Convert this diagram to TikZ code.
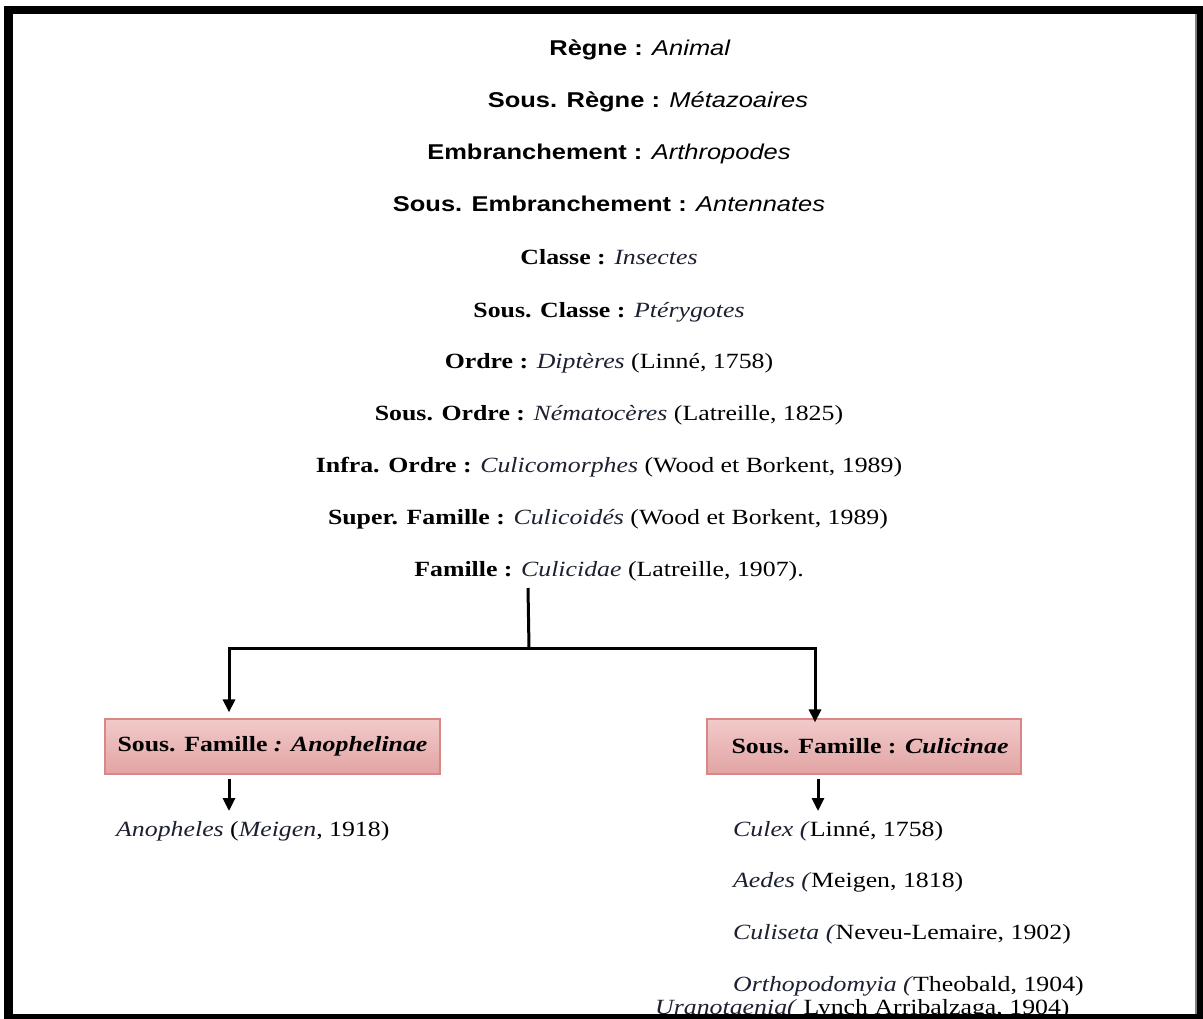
\documentclass[tikz,border=0pt]{standalone}
\usepackage{fontspec}
\setmainfont{Liberation Serif}
\setsansfont{Liberation Sans}
\usetikzlibrary{arrows.meta}
\definecolor{ital}{HTML}{1C2030}
\definecolor{boxtop}{HTML}{F2CACA}
\definecolor{boxbot}{HTML}{E2A3A3}
\definecolor{boxborder}{HTML}{D98686}
\newcommand{\itx}[1]{\textcolor{ital}{\textit{#1}}}
\newcommand{\sx}[1]{\scalebox{1.19}[1]{#1}}
\begin{document}
\begin{tikzpicture}[x=1pt,y=-1pt,
  lvl/.style={anchor=base,inner sep=0pt,font=\fontsize{21.7}{25}\selectfont},
  slvl/.style={anchor=base,inner sep=0pt,font=\sffamily\fontsize{21.4}{25}\selectfont},
  gen/.style={anchor=base west,inner sep=0pt,font=\fontsize{21.7}{25}\selectfont},
  sfbox/.style={draw=boxborder,top color=boxtop,bottom color=boxbot,line width=1.2pt,
    minimum height=55pt,inner sep=0pt,font=\bfseries\fontsize{21.7}{25}\selectfont},
  conn/.style={line width=3pt},
  arr/.style={conn,-{Triangle[length=13pt,width=12pt]}}]
\useasboundingbox (0,0) rectangle (1203,1019);
\clip (0,0) rectangle (1203,1019);
\fill[white] (0,0) rectangle (1203,1019);

% taxonomy levels
\node[slvl] (regne) at (640,56) {\sx{\textbf{Règne :} \textit{Animal}}};
\node[slvl] (sregne) at (648,108) {\sx{\textbf{Sous. Règne :} \textit{Métazoaires}}};
\node[slvl] (emb) at (609,160) {\sx{\textbf{Embranchement :} \textit{Arthropodes}}};
\node[slvl] (semb) at (609,212) {\sx{\textbf{Sous. Embranchement :} \textit{Antennates}}};
\node[lvl] (classe) at (609,265) {\sx{\textbf{Classe :} \itx{Insectes}}};
\node[lvl] (sclasse) at (609,317) {\sx{\textbf{Sous. Classe :} \itx{Ptérygotes}}};
\node[lvl] (ordre) at (609,368) {\sx{\textbf{Ordre :} \itx{Diptères} (Linné, 1758)}};
\node[lvl] (sordre) at (609,420) {\sx{\textbf{Sous. Ordre :} \itx{Nématocères} (Latreille, 1825)}};
\node[lvl] (iordre) at (609,472) {\sx{\textbf{Infra. Ordre :} \itx{Culicomorphes} (Wood et Borkent, 1989)}};
\node[lvl] (sfam) at (608,524) {\sx{\textbf{Super. Famille :} \itx{Culicoidés} (Wood et Borkent, 1989)}};
\node[lvl] (fam) at (609,576) {\sx{\textbf{Famille :} \itx{Culicidae} (Latreille, 1907).}};

% sub-families
\node[sfbox,minimum width=335pt] (anoph) at (272.5,746.5) {\sx{Sous. Famille \textit{: Anophelinae}}};
\node[sfbox,minimum width=314pt] (culic) at (864,746.5) {\hspace*{12pt}\sx{Sous. Famille : \textit{Culicinae}}};

% connectors
\coordinate (famstem) at (528,588);
\coordinate (j) at (529,648);
\coordinate (jl) at (229,648);
\coordinate (jr) at (815,648);
\draw[conn] (famstem) -- (j);
\draw[conn,line cap=rect] (jl) -- (jr);
\draw[arr,shorten >=6pt] (jl) -- (anoph.north -| jl);
\draw[arr,shorten >=-4pt] (jr) -- (culic.north -| jr);

% genera
\node[gen] (anopheles) at (116,836) {\sx{\itx{Anopheles} (\itx{Meigen}, 1918)}};
\node[gen] (culex) at (733,836) {\sx{\itx{Culex (}Linné, 1758)}};
\node[gen] (aedes) at (733,887) {\sx{\itx{Aedes (}Meigen, 1818)}};
\node[gen] (culiseta) at (733,939) {\sx{\itx{Culiseta (}Neveu-Lemaire, 1902)}};
\node[gen] (ortho) at (733,991) {\sx{\itx{Orthopodomyia (}Theobald, 1904)}};
\node[gen] (urano) at (655,1014) {\sx{\underline{\itx{Uranotaenia(}} Lynch Arribalzaga, 1904)}};

\coordinate (al) at (229,811);
\coordinate (cl) at (818,811);
\draw[arr] ([yshift=-4pt]anoph.south -| al) -- (al);
\draw[arr] ([yshift=-4pt]culic.south -| cl) -- (cl);

% frame
\draw[line width=8.5pt] (8.5,10) -- (1200,10) -- (1200,1018) -- (8.5,1018) -- cycle;
\draw[gray,line width=1.5pt] (1196,14) -- (1196,1014);
\end{tikzpicture}
\end{document}
